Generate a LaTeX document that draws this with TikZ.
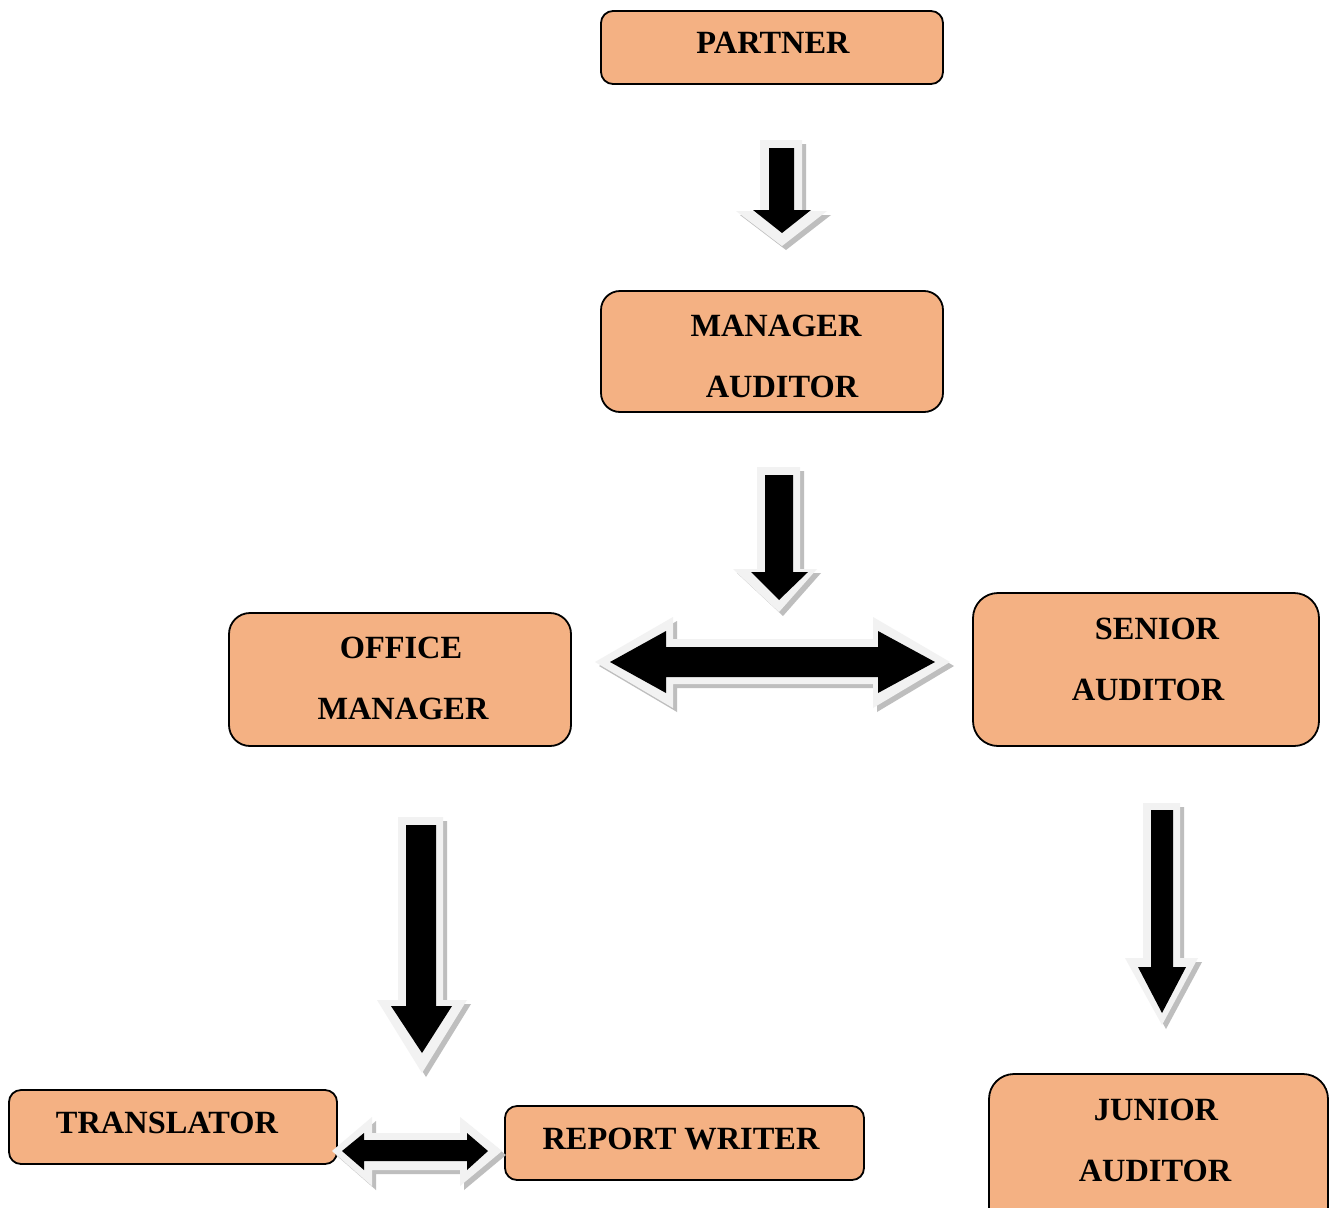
\documentclass[tikz,border=0pt]{standalone}
\usepackage{fontspec}
\setmainfont{Liberation Serif}
\definecolor{boxfill}{RGB}{244,177,131}
\definecolor{glow}{RGB}{242,242,242}
\definecolor{shade}{RGB}{190,190,190}
\tikzset{
  box/.style={draw=black, line width=1.8pt, fill=boxfill, inner sep=0pt, outer sep=0pt},
  lbl/.style={anchor=base, inner sep=0pt, font=\fontsize{32.4}{36}\selectfont\bfseries},
  arrowshadow/.style={fill=shade},
  arrowglow/.style={fill=glow},
  arrowcore/.style={fill=black},
}
\begin{document}
\begin{tikzpicture}[x=1pt,y=-1pt]
\useasboundingbox (0,0) rectangle (1329,1207);
\fill[white] (0,0) rectangle (1329,1207);

% boxes
\node[box, rounded corners=12pt, minimum width=342pt, minimum height=73pt] (partner) at (772,47.5) {};
\node[box, rounded corners=19pt, minimum width=342pt, minimum height=121pt] (manager) at (772,351.5) {};
\node[box, rounded corners=21pt, minimum width=342pt, minimum height=133pt] (office) at (400,679.5) {};
\node[box, rounded corners=25pt, minimum width=346pt, minimum height=153pt] (senior) at (1146,669.5) {};
\node[box, rounded corners=12pt, minimum width=328pt, minimum height=74pt] (translator) at (173,1127) {};
\node[box, rounded corners=12pt, minimum width=359pt, minimum height=74pt] (report) at (684.5,1143) {};
\node[box, rounded corners=25pt, minimum width=339pt, minimum height=160pt] (junior) at (1158.5,1154) {};

% labels
\node[lbl] (tpartner) at (773,53) {PARTNER};
\node[lbl] (tman1) at (776,336) {MANAGER};
\node[lbl] (tman2) at (782,397) {AUDITOR};
\node[lbl] (toff1) at (401,658) {OFFICE};
\node[lbl] (toff2) at (403,719) {MANAGER};
\node[lbl] (tsen1) at (1157,639) {SENIOR};
\node[lbl] (tsen2) at (1148,700) {AUDITOR};
\node[lbl] (ttrans) at (167,1133) {TRANSLATOR};
\node[lbl] (trep) at (681,1149) {REPORT WRITER};
\node[lbl] (tjun1) at (1156,1120) {JUNIOR};
\node[lbl] (tjun2) at (1155,1181) {AUDITOR};

% arrow 1: partner -> manager
\fill[arrowshadow,shift={(4,4)}] (760,140) -- (802,140) -- (802,211) -- (827,211) -- (782,246) -- (736,211) -- (760,211) -- cycle;
\fill[arrowglow] (760,140) -- (802,140) -- (802,211) -- (827,211) -- (782,246) -- (736,211) -- (760,211) -- cycle;
\fill[arrowcore] (769,148) -- (794,148) -- (794,210) -- (811,210) -- (782,233) -- (753,210) -- (769,210) -- cycle;

% arrow 2: manager -> double arrow
\fill[arrowshadow,shift={(4,4)}] (757,467) -- (800,467) -- (800,569) -- (817,569) -- (779,612) -- (733,569) -- (757,569) -- cycle;
\fill[arrowglow] (757,467) -- (800,467) -- (800,569) -- (817,569) -- (779,612) -- (733,569) -- (757,569) -- cycle;
\fill[arrowcore] (765,475) -- (793,475) -- (793,572) -- (808,572) -- (779,600) -- (751,572) -- (765,572) -- cycle;

% arrow 3: office manager -> down
\fill[arrowshadow,shift={(4,4)}] (398,817) -- (443,817) -- (443,1000) -- (467,1000) -- (422,1073) -- (377,1000) -- (398,1000) -- cycle;
\fill[arrowglow] (398,817) -- (443,817) -- (443,1000) -- (467,1000) -- (422,1073) -- (377,1000) -- (398,1000) -- cycle;
\fill[arrowcore] (406,825) -- (436,825) -- (436,1006) -- (452,1006) -- (422,1053) -- (391,1006) -- (406,1006) -- cycle;

% arrow 4: senior -> junior
\fill[arrowshadow,shift={(4,4)}] (1143,803) -- (1180,803) -- (1180,958) -- (1198,958) -- (1162,1025) -- (1125,958) -- (1143,958) -- cycle;
\fill[arrowglow] (1143,803) -- (1180,803) -- (1180,958) -- (1198,958) -- (1162,1025) -- (1125,958) -- (1143,958) -- cycle;
\fill[arrowcore] (1151,810) -- (1173,810) -- (1173,967) -- (1186,967) -- (1162,1013) -- (1138,967) -- (1151,967) -- cycle;

% double arrow 5: office <-> senior
\fill[arrowshadow,shift={(4,4)}] (595,662) -- (673,617) -- (673,639) -- (873,639) -- (873,617) -- (950,662) -- (873,708) -- (873,684) -- (673,684) -- (673,708) -- cycle;
\fill[arrowglow] (595,662) -- (673,617) -- (673,639) -- (873,639) -- (873,617) -- (950,662) -- (873,708) -- (873,684) -- (673,684) -- (673,708) -- cycle;
\fill[arrowcore] (610,662) -- (666,631) -- (666,647) -- (878,647) -- (878,631) -- (935,662) -- (878,693) -- (878,677) -- (666,677) -- (666,693) -- cycle;

% double arrow 6: translator <-> report writer
\fill[arrowshadow,shift={(4,4)}] (332,1151) -- (372,1117) -- (372,1133) -- (460,1133) -- (460,1117) -- (502,1151) -- (460,1186) -- (460,1170) -- (372,1170) -- (372,1186) -- cycle;
\fill[arrowglow] (332,1151) -- (372,1117) -- (372,1133) -- (460,1133) -- (460,1117) -- (502,1151) -- (460,1186) -- (460,1170) -- (372,1170) -- (372,1186) -- cycle;
\fill[arrowcore] (342,1151) -- (364,1133) -- (364,1140) -- (467,1140) -- (467,1133) -- (488,1151) -- (467,1170) -- (467,1161) -- (364,1161) -- (364,1170) -- cycle;
\end{tikzpicture}
\end{document}
